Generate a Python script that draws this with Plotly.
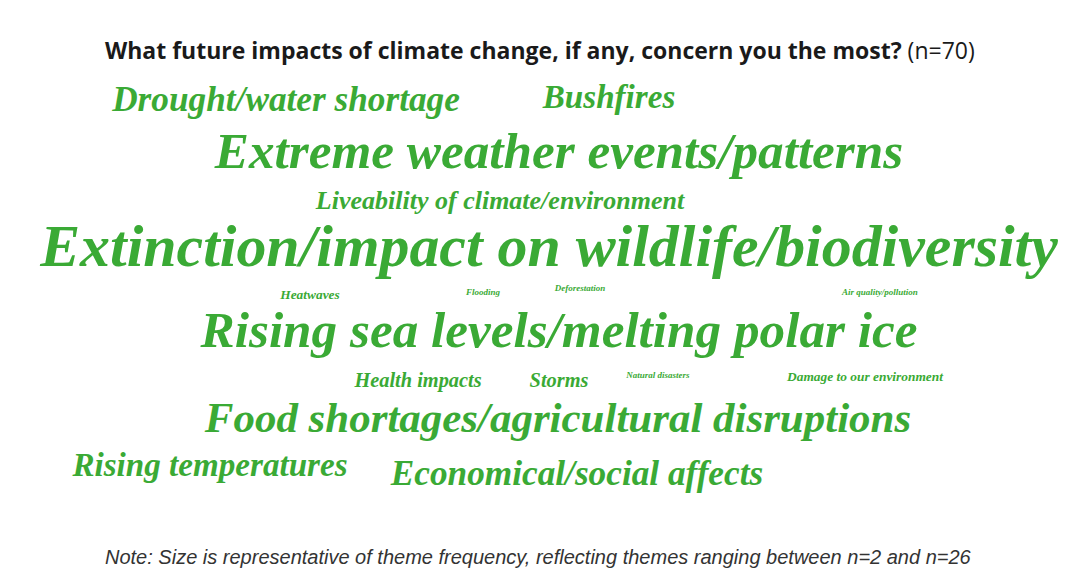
import math

import plotly.graph_objects as go

# theme frequencies (estimated from word sizes, n=2..26)
themes = [
    "Drought/water shortage",
    "Bushfires",
    "Extreme weather events/patterns",
    "Liveability of climate/environment",
    "Extinction/impact on wildlife/biodiversity",
    "Heatwaves",
    "Flooding",
    "Deforestation",
    "Air quality/pollution",
    "Rising sea levels/melting polar ice",
    "Health impacts",
    "Storms",
    "Natural disasters",
    "Damage to our environment",
    "Food shortages/agricultural disruptions",
    "Rising temperatures",
    "Economical/social affects",
]
counts = [11, 10, 20, 7, 26, 3, 2, 2, 2, 20, 5, 5, 2, 3, 15, 10, 11]

# word-cloud layout (pixel centres on a 1066x586 canvas)
pos_x = [278, 601, 551, 492, 541, 302, 475, 572, 872, 551, 410, 551, 650, 857, 550, 202, 569]
pos_y = [94, 92, 147, 194, 243, 288, 285, 281, 285, 326, 374, 374, 368, 370, 413, 460, 468]

GREEN = "#3aaa35"


def font_size(n):
    return max(9, 13.8 * math.sqrt(n) - 10.5)


fig = go.Figure()
fig.add_trace(
    go.Scatter(
        x=pos_x,
        y=pos_y,
        mode="text",
        text=themes,
        textposition="middle center",
        textfont=dict(
            family="Liberation Serif",
            size=[font_size(n) for n in counts],
            color=GREEN,
            style="italic",
            weight="bold",
        ),
        hoverinfo="text",
        showlegend=False,
    )
)

fig.add_annotation(
    x=532, y=42, xref="x", yref="y",
    text="<b>What future impacts of climate change, if any, concern you the most?</b> (n=70)",
    showarrow=False,
    font=dict(family="Open Sans", size=23, color="#1a1a1a"),
)
fig.add_annotation(
    x=530, y=549, xref="x", yref="y",
    text="<i>Note: Size is representative of theme frequency, reflecting themes ranging between n=2 and n=26</i>",
    showarrow=False,
    font=dict(family="Liberation Sans", size=20, color="#333333"),
)

fig.update_xaxes(range=[0, 1066], visible=False)
fig.update_yaxes(range=[586, 0], visible=False)
fig.update_layout(
    width=1066,
    height=586,
    margin=dict(t=0, b=0, l=0, r=0),
    paper_bgcolor="white",
    plot_bgcolor="white",
)

fig.write_html("out.html")
